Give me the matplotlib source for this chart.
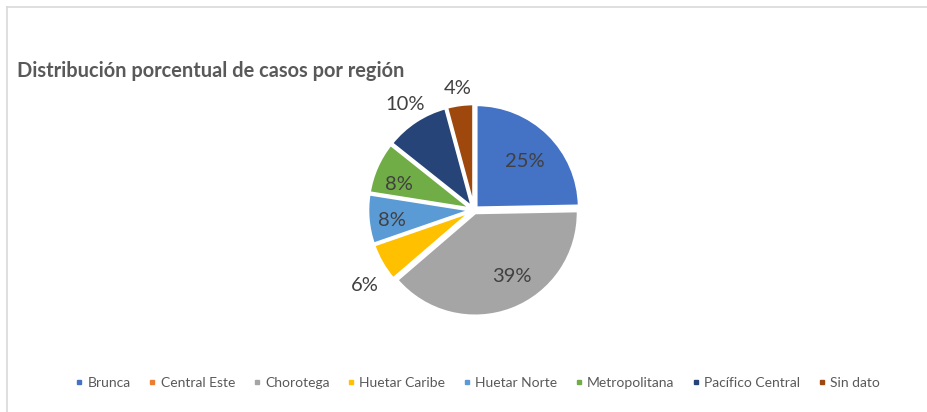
import numpy as np
import matplotlib.pyplot as plt
from matplotlib.lines import Line2D

# data (percent of cases)
regions = ["Brunca", "Central Este", "Chorotega", "Huetar Caribe",
           "Huetar Norte", "Metropolitana", "Pacífico Central", "Sin dato"]
shares = [24.7, 0.0, 39.0, 6.0, 7.8, 8.2, 10.1, 4.2]
colors = ["#4472C4", "#ED7D31", "#A5A5A5", "#FFC000",
          "#5B9BD5", "#70AD47", "#264478", "#9E480E"]
title = "Distribución porcentual de casos por región"

# label distance (in radii) and small angle nudge per slice, like excel "best fit"
label_r = [0.68, 0.0, 0.74, 1.29, 0.80, 0.77, 1.22, 1.19]
label_nudge = [-2, 0, 9, 5, 2, 5, 0, 0]

W, H = 928, 412
unit = 103.0  # pixels per pie radius

fig = plt.figure(figsize=(W / 100, H / 100), dpi=100)
ax = fig.add_axes([0, 0, 1, 1])

# chart frame (only top and left edges are inside the crop)
ax.plot([7 / unit, W / unit], [(H - 6.5) / unit] * 2, color="#D9D9D9", lw=1.2)
ax.plot([7.5 / unit] * 2, [0, (H - 6.5) / unit], color="#D9D9D9", lw=1.2)

cx, cy = 474 / unit, (H - 210) / unit
wedges, _ = ax.pie(shares, colors=colors, startangle=90, counterclock=False,
                   radius=1.0, center=(cx, cy), explode=[0.03] * len(shares),
                   wedgeprops=dict(edgecolor="white", linewidth=2.0),
                   normalize=True, frame=True)
ax.set_xlim(0, W / unit)
ax.set_ylim(0, H / unit)
ax.set_aspect("auto")
ax.axis("off")

for w, val, r, nud in zip(wedges, shares, label_r, label_nudge):
    if val <= 0:
        continue
    ang = np.deg2rad((w.theta1 + w.theta2) / 2 + nud)
    ax.text(cx + r * np.cos(ang), cy + r * np.sin(ang), "%.0f%%" % val,
            ha="center", va="center", fontsize=14.5, color="#404040",
            family=["Lato", "DejaVu Sans"])

fig.text(17 / W, 1 - 71 / H, title, ha="left", va="center", fontsize=14.4,
         fontweight="bold", color="#595959", family=["Lato", "DejaVu Sans"])

handles = [Line2D([], [], marker="s", linestyle="none", markersize=3.5,
                  markerfacecolor=c, markeredgecolor=c) for c in colors]
fig.legend(handles, regions, loc="center", bbox_to_anchor=(478 / W, 1 - 383 / H),
           ncol=len(regions), frameon=False, handlelength=0.5,
           handletextpad=0.35, columnspacing=1.3, labelcolor="#595959",
           prop=dict(family=["Lato", "DejaVu Sans"], size=10))

fig.savefig("out.png", dpi=100, facecolor="white")
